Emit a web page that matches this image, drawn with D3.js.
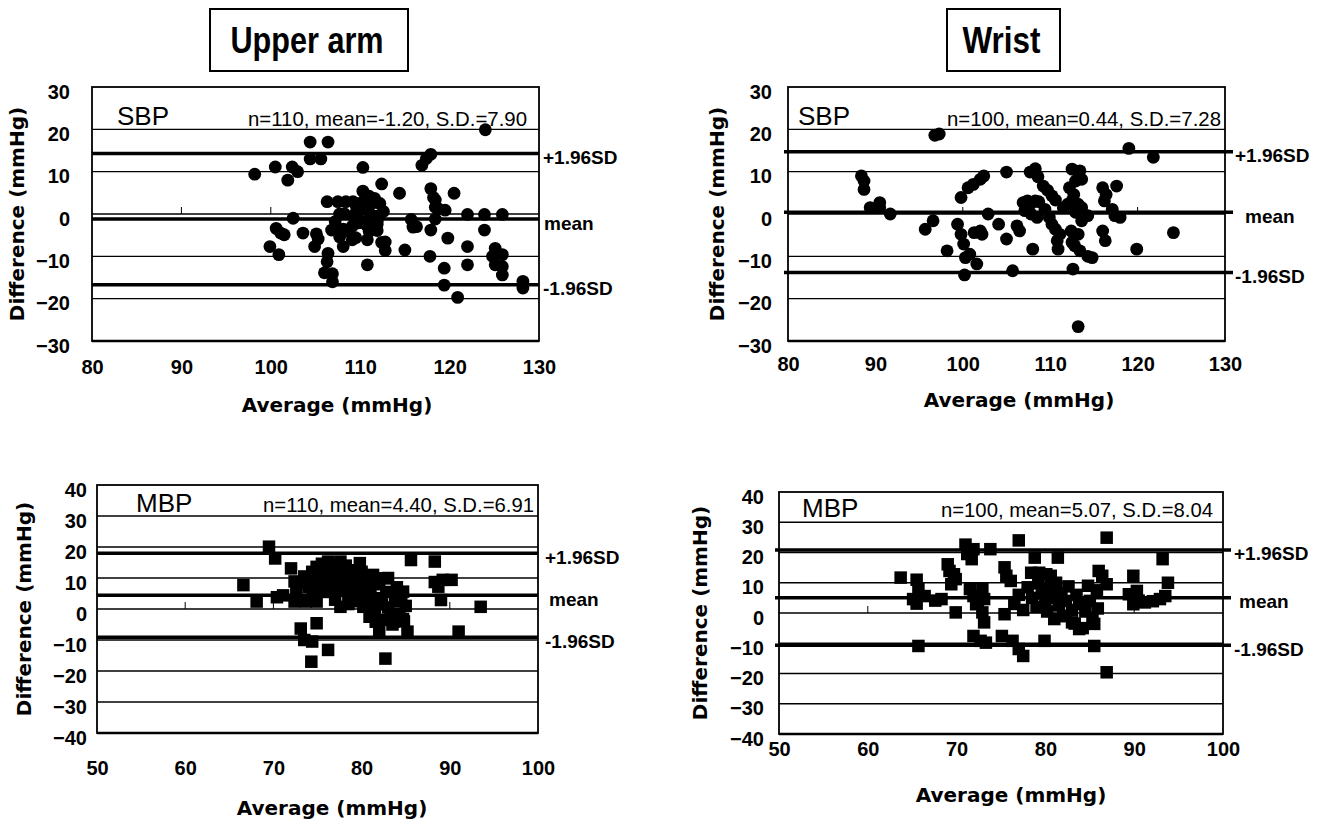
<!DOCTYPE html>
<html lang="en">
<head>
<meta charset="UTF-8">
<title>Bland-Altman: upper arm vs wrist</title>
<script src="https://d3js.org/d3.v7.min.js"></script>
<style>
  body { margin: 0; background: #fff; }
  svg { display: block; background: #fff; }
  text { fill: #000; }
  .tick text { font-family: 'Liberation Sans', Arial, sans-serif; font-weight: bold; font-size: 20px; }
  .axis-title { font-family: 'DejaVu Sans', sans-serif; font-weight: bold; font-size: 20px; }
  .limit-label { font-family: 'Liberation Sans', Arial, sans-serif; font-weight: bold; font-size: 19px; }
  .panel-name { font-family: 'Liberation Sans', Arial, sans-serif; font-size: 26px; }
  .stats { font-family: 'Liberation Sans', Arial, sans-serif; font-size: 21px; }
  .site-title { font-family: 'Liberation Sans', Arial, sans-serif; font-weight: bold; font-size: 37px; }
</style>
</head>
<body>
<svg width="1332" height="819"></svg>
<script>
// tick values
const sbpXTicks = [80, 90, 100, 110, 120, 130];
const sbpYTicks = [-30, -20, -10, 0, 10, 20, 30];
const mbpXTicks = [50, 60, 70, 80, 90, 100];
const mbpYTicks = [-40, -30, -20, -10, 0, 10, 20, 30, 40];

// n, mean, S.D. as printed on each plot
const armSbpStats = [110, -1.20, 7.90];
const wristSbpStats = [100, 0.44, 7.28];
const armMbpStats = [110, 4.40, 6.91];
const wristMbpStats = [100, 5.07, 8.04];

// upper arm SBP
const armSbpAvg = [124.0, 104.4, 106.4, 104.4, 105.6, 98.2, 100.5, 102.4, 103.0, 101.9,
  110.3, 116.9, 117.4, 117.9, 112.4, 114.4, 117.9, 120.5, 118.4, 118.7,
  119.5, 122.0, 123.9, 125.9, 115.7, 116.3, 117.9, 119.8, 123.9, 122.0,
  125.1, 124.8, 125.1, 125.9, 125.9, 125.9, 117.8, 119.4, 119.4, 120.9,
  128.2, 128.2, 122.0, 102.5, 100.6, 101.1, 101.5, 99.9, 100.9, 103.6,
  105.1, 105.3, 104.9, 106.4, 106.3, 106.0, 106.9, 106.9, 106.3, 107.5,
  108.4, 109.2, 110.3, 107.7, 108.2, 109.2, 106.8, 108.1, 107.7, 108.1,
  109.1, 109.1, 109.8, 110.1, 110.3, 111.0, 110.6, 111.0, 111.6, 111.6,
  111.9, 110.8, 111.0, 111.6, 112.2, 112.6, 110.0, 108.7, 109.5, 111.3,
  111.9, 112.4, 110.8, 112.8, 112.8, 115.0, 111.9, 112.1, 115.9, 118.4,
  118.4, 118.2, 109.6, 110.7, 107.2];
const armSbpDiff = [19.9, 17.0, 17.0, 13.0, 13.0, 9.4, 11.1, 11.1, 10.0, 8.0,
  11.0, 11.5, 13.1, 14.1, 7.1, 4.9, 6.0, 4.9, 3.3, 1.3,
  0.9, -0.1, -0.1, -0.1, -1.3, -3.0, -3.8, -5.7, -3.8, -7.7,
  -8.1, -10.0, -12.0, -9.6, -12.4, -14.4, -10.0, -12.8, -16.8, -19.7,
  -15.9, -17.5, -12.0, -1.0, -3.4, -4.5, -4.9, -7.7, -9.6, -4.5,
  -4.7, -5.9, -7.7, -9.3, -11.3, -13.9, -14.1, -16.0, 2.9, 2.9,
  2.9, 2.9, 2.9, 0.0, 0.1, -0.4, -3.8, -3.6, -5.4, -7.7,
  -6.1, -2.9, -2.1, 1.1, 5.4, 4.2, 2.7, 0.3, 2.7, -0.5,
  -1.7, -6.1, -4.1, 3.7, 2.5, 0.6, -1.6, -4.0, -5.6, -3.1,
  -3.9, -6.7, -12.0, -6.6, -8.6, -8.5, -2.4, -0.4, -3.1, -1.2,
  1.6, 3.9, 1.5, -2.6, -1.8];

// wrist SBP
const wristSbpAvg = [96.8, 97.3, 119.0, 121.8, 88.4, 88.7, 88.7, 89.4, 90.5, 90.5,
  91.7, 95.7, 96.6, 99.8, 99.4, 99.8, 100.1, 98.2, 100.8, 100.3,
  101.6, 100.2, 101.3, 102.0, 102.2, 100.6, 101.2, 102.0, 102.4, 102.9,
  104.1, 105.0, 105.0, 106.2, 106.5, 105.7, 108.0, 107.7, 108.3, 108.6,
  106.9, 107.4, 107.8, 108.3, 108.7, 107.1, 107.8, 108.5, 109.2, 109.7,
  110.2, 110.6, 109.4, 109.9, 110.2, 110.6, 111.1, 110.8, 110.9, 111.5,
  112.0, 112.5, 113.4, 112.9, 113.6, 112.2, 112.7, 112.5, 113.2, 113.6,
  112.9, 112.4, 113.2, 112.5, 112.8, 113.4, 114.3, 114.8, 112.6, 113.6,
  114.3, 116.0, 116.4, 117.6, 116.2, 116.0, 116.3, 117.1, 117.4, 118.0,
  119.9, 124.1, 113.2];
const wristSbpDiff = [18.6, 18.9, 15.5, 13.4, 9.0, 7.8, 5.8, 1.5, 2.7, 1.5,
  0.0, -3.6, -1.6, 3.9, -2.4, -4.8, -7.1, -8.7, -9.5, -10.3,
  -11.8, -14.4, -4.4, -4.0, -4.8, 6.2, 7.0, 8.2, 9.0, 0.0,
  -2.4, 9.9, -5.9, -2.8, -4.0, -13.4, -8.3, 9.9, 10.7, 8.8,
  2.7, 3.1, 2.5, 3.1, 2.9, 0.8, 0.0, -0.8, 6.6, 5.6,
  4.3, 3.3, 1.1, -0.8, -2.4, -3.6, -4.8, -6.3, -8.3, 1.5,
  2.3, 10.6, 10.2, 7.8, 8.2, 6.2, 4.6, 3.1, 2.3, 1.5,
  0.4, -4.0, -4.8, -6.7, -7.5, -8.7, -10.0, -10.3, -13.0, -1.6,
  -0.4, 6.2, 4.6, 6.6, 3.1, -4.0, -6.3, 1.1, -0.4, -0.8,
  -8.3, -4.4, -26.6];

// upper arm MBP
const armMbpAvg = [69.5, 70.2, 66.6, 68.1, 70.4, 71.1, 72.0, 72.4, 72.6, 72.4,
  73.7, 74.4, 74.9, 75.5, 76.2, 76.9, 77.6, 77.4, 73.5, 74.0,
  74.5, 75.0, 75.5, 75.8, 76.0, 76.5, 77.0, 77.0, 77.5, 78.0,
  78.2, 78.5, 79.0, 79.0, 79.5, 80.0, 80.0, 80.5, 80.8, 81.0,
  81.3, 81.5, 82.0, 82.0, 82.5, 82.8, 83.0, 83.0, 83.5, 83.8,
  84.0, 84.3, 84.5, 84.8, 85.0, 82.7, 84.1, 84.7, 80.9, 81.6,
  82.0, 83.6, 84.7, 85.2, 80.2, 73.1, 73.5, 74.4, 74.9, 74.3,
  76.2, 82.7, 73.7, 74.9, 75.3, 77.6, 78.5, 85.6, 88.3, 88.3,
  89.2, 90.2, 88.7, 89.0, 91.0, 93.5, 76.0, 77.2, 78.8, 79.8,
  76.8, 78.3, 80.3, 81.8, 79.3, 81.2, 82.3, 83.3, 77.8, 75.2,
  80.7];
const armMbpDiff = [20.1, 16.3, 7.7, 2.4, 3.8, 4.4, 13.1, 8.9, 5.1, 2.4,
  8.3, 12.0, 13.6, 14.6, 15.3, 14.6, 15.3, 13.6, 10.5, 7.0,
  4.0, 11.0, 8.0, 5.5, 12.5, 9.5, 6.5, 3.0, 11.5, 8.5,
  14.0, 5.5, 10.0, 2.5, 7.5, 12.0, 4.5, 9.0, 1.5, 6.0,
  11.0, -1.0, 3.5, 8.0, -3.5, 5.5, 10.0, 0.5, -5.0, 2.5,
  7.0, -1.5, 4.5, -4.0, 1.0, 9.9, 5.1, 5.6, -2.5, -4.1,
  -7.3, -4.1, -3.2, -7.3, 0.7, -6.3, -10.0, -10.5, -4.6, -17.0,
  -13.2, -16.0, 2.4, 2.4, 8.3, 0.7, 1.6, 15.8, 15.3, 8.7,
  9.4, 9.4, 7.2, 2.9, -7.3, 0.7, 10.5, 13.0, 12.5, 14.8,
  8.0, 6.8, 10.8, 9.8, 4.0, 3.0, 1.5, -2.0, 9.5, 6.5,
  7.5];

// wrist MBP
const wristMbpAvg = [63.7, 65.5, 65.7, 65.1, 65.5, 66.4, 65.7, 67.6, 68.3, 69.0,
  69.2, 69.7, 69.4, 69.9, 69.9, 71.0, 71.2, 71.7, 71.9, 71.5,
  71.9, 72.4, 73.1, 72.9, 72.2, 71.9, 72.7, 73.3, 73.1, 72.9,
  73.8, 75.4, 75.6, 76.1, 75.4, 75.1, 76.3, 77.0, 77.5, 77.0,
  78.8, 78.4, 79.3, 80.1, 80.6, 79.9, 81.4, 85.5, 85.5, 86.0,
  86.4, 86.9, 86.9, 86.9, 89.9, 89.4, 90.3, 89.9, 90.5, 91.2,
  92.1, 92.9, 93.5, 93.2, 93.8, 78.0, 78.5, 79.0, 79.2, 79.6,
  80.0, 80.2, 80.5, 80.8, 81.0, 81.2, 81.5, 81.8, 82.0, 82.3,
  82.6, 83.0, 83.3, 83.5, 83.8, 84.2, 84.5, 84.8, 85.0, 85.3,
  85.8, 85.9, 77.0, 76.5, 77.5, 82.3, 83.0, 83.8];
const wristMbpDiff = [11.7, 11.0, 7.9, 4.6, 3.1, 5.6, -10.9, 4.1, 4.6, 16.1,
  13.9, 12.8, 9.5, 11.2, 0.2, 22.6, 19.5, 17.8, 21.1, 7.9,
  5.6, 4.1, 4.6, 7.9, 2.9, -7.6, -9.2, -9.8, -3.1, 0.2,
  21.1, 15.1, 12.3, 10.6, -0.4, -7.6, -9.2, -11.9, -14.2, 24.0,
  18.3, 13.3, 13.3, 12.8, 12.3, -9.2, 18.3, -3.6, -10.9, 13.9,
  12.3, 9.5, 24.9, -19.6, 12.3, 6.2, 7.3, 2.9, 4.1, 3.5,
  3.9, 4.6, 5.6, 17.8, 10.0, 8.5, 5.0, 2.0, 9.8, 6.5,
  3.5, 0.5, 8.0, 5.0, -2.0, 10.0, 2.5, 6.5, -1.0, 4.0,
  8.8, 1.0, -3.5, 6.0, 3.0, -5.0, 0.5, 9.0, 4.0, -1.5,
  7.5, 1.5, 6.0, 3.0, 1.0, -1.0, -3.1, -5.3];

const svg = d3.select('svg');

// site headers ("Upper arm" / "Wrist")
const headers = [
  { text: 'Upper arm', x0: 210, x1: 408, width: 153 },
  { text: 'Wrist', x0: 947, x1: 1060, width: 78 }
];
headers.forEach(h => {
  svg.append('rect')
    .attr('x', h.x0).attr('y', 9)
    .attr('width', h.x1 - h.x0).attr('height', 62)
    .attr('fill', 'none').attr('stroke', '#000').attr('stroke-width', 2);
  svg.append('text').attr('class', 'site-title')
    .attr('x', (h.x0 + h.x1) / 2 - 2).attr('y', 53)
    .attr('text-anchor', 'middle')
    .attr('textLength', h.width).attr('lengthAdjust', 'spacingAndGlyphs')
    .text(h.text);
});

const panels = [
  { name: 'SBP', avg: armSbpAvg, diff: armSbpDiff, stats: armSbpStats,
    xTicks: sbpXTicks, yTicks: sbpYTicks, marker: 'circle',
    box: [92, 87, 539, 341], overhang: [0, 0],
    nameX: 117, nameY: 125, statsX: 527, statsY: 126, statsW: 279,
    yPad: 22, xLabelOff: 26, titleX: 337, titleY: 405, yTitleX: 17,
    limX: [543, 544, 543] },
  { name: 'SBP', avg: wristSbpAvg, diff: wristSbpDiff, stats: wristSbpStats,
    xTicks: sbpXTicks, yTicks: sbpYTicks, marker: 'circle',
    box: [788, 87, 1225, 341], overhang: [4, 8],
    nameX: 798, nameY: 125, statsX: 1221, statsY: 126, statsW: 274,
    yPad: 16, xLabelOff: 23, titleX: 1019, titleY: 400, yTitleX: 717,
    limX: [1235, 1245, 1235] },
  { name: 'MBP', avg: armMbpAvg, diff: armMbpDiff, stats: armMbpStats,
    xTicks: mbpXTicks, yTicks: mbpYTicks, marker: 'square',
    box: [97, 485, 538, 733], overhang: [0, 0],
    nameX: 136, nameY: 512, statsX: 534, statsY: 512, statsW: 271,
    yPad: 10, xLabelOff: 35, titleX: 332, titleY: 808, yTitleX: 24,
    limX: [545, 549, 545] },
  { name: 'MBP', avg: wristMbpAvg, diff: wristMbpDiff, stats: wristMbpStats,
    xTicks: mbpXTicks, yTicks: mbpYTicks, marker: 'square',
    box: [779, 492, 1223, 734], overhang: [4, 8],
    nameX: 802, nameY: 517, statsX: 1213, statsY: 517, statsW: 272,
    yPad: 15, xLabelOff: 15, titleX: 1011, titleY: 795, yTitleX: 700,
    limX: [1234, 1239, 1234] }
];

panels.forEach(p => {
  const [left, top, right, bottom] = p.box;
  const x = d3.scaleLinear().domain(d3.extent(p.xTicks)).range([left, right]);
  const y = d3.scaleLinear().domain(d3.extent(p.yTicks)).range([bottom, top]);
  const g = svg.append('g');

  // inner gridlines
  g.selectAll('line.grid')
    .data(p.yTicks.slice(1, -1))
    .join('line').attr('class', 'grid')
    .attr('x1', left).attr('x2', right)
    .attr('y1', d => y(d)).attr('y2', d => y(d))
    .attr('stroke', '#000').attr('stroke-width', 1.4);

  // small ticks on the zero line
  g.selectAll('line.zt')
    .data(p.xTicks.slice(1, -1))
    .join('line').attr('class', 'zt')
    .attr('x1', d => x(d)).attr('x2', d => x(d))
    .attr('y1', y(0)).attr('y2', y(0) - 7)
    .attr('stroke', '#000').attr('stroke-width', 1);

  // mean and +/-1.96 SD lines
  const [n, mean, sd] = p.stats;
  const limits = [mean + 1.96 * sd, mean, mean - 1.96 * sd];
  g.selectAll('line.lim')
    .data(limits)
    .join('line').attr('class', 'lim')
    .attr('x1', left - p.overhang[0]).attr('x2', right + p.overhang[1])
    .attr('y1', d => y(d)).attr('y2', d => y(d))
    .attr('stroke', '#000').attr('stroke-width', 3.5);

  const limText = ['+1.96SD', 'mean', '-1.96SD'];
  g.selectAll('text.lim')
    .data(limits)
    .join('text').attr('class', 'limit-label')
    .attr('x', (d, i) => p.limX[i])
    .attr('y', d => y(d) + 4)
    .attr('dominant-baseline', 'central')
    .text((d, i) => limText[i]);

  // frame
  g.append('rect')
    .attr('x', left).attr('y', top)
    .attr('width', right - left).attr('height', bottom - top)
    .attr('fill', 'none').attr('stroke', '#000').attr('stroke-width', 1.8);
  g.append('line')
    .attr('x1', left).attr('x2', right).attr('y1', bottom).attr('y2', bottom)
    .attr('stroke', '#000').attr('stroke-width', 2.6);

  // points
  const pts = p.avg.map((a, i) => ({ a, d: p.diff[i] }));
  if (p.marker === 'circle') {
    g.selectAll('circle.pt').data(pts).join('circle').attr('class', 'pt')
      .attr('cx', d => x(d.a)).attr('cy', d => y(d.d)).attr('r', 6.4)
      .attr('fill', '#000');
  } else {
    const s = 12.5;
    g.selectAll('rect.pt').data(pts).join('rect').attr('class', 'pt')
      .attr('x', d => x(d.a) - s / 2).attr('y', d => y(d.d) - s / 2)
      .attr('width', s).attr('height', s).attr('fill', '#000');
  }

  // axes
  const xAxis = g.append('g')
    .attr('transform', `translate(0,${bottom})`)
    .call(d3.axisBottom(x).tickValues(p.xTicks).tickSize(0).tickFormat(d3.format('d')));
  xAxis.select('.domain').remove();
  xAxis.selectAll('text').attr('y', p.xLabelOff).attr('dy', '0.35em');

  const yAxis = g.append('g')
    .attr('transform', `translate(${left},0)`)
    .call(d3.axisLeft(y).tickValues(p.yTicks).tickSize(0).tickPadding(p.yPad).tickFormat(d3.format('d')));
  yAxis.select('.domain').remove();
  yAxis.selectAll('text').attr('dy', '0.55em');

  // labels inside the header band
  g.append('text').attr('class', 'panel-name')
    .attr('x', p.nameX).attr('y', p.nameY).text(p.name);
  g.append('text').attr('class', 'stats')
    .attr('x', p.statsX).attr('y', p.statsY).attr('text-anchor', 'end')
    .attr('textLength', p.statsW).attr('lengthAdjust', 'spacingAndGlyphs')
    .text(`n=${n}, mean=${mean.toFixed(2)}, S.D.=${sd.toFixed(2)}`);

  // axis titles
  g.append('text').attr('class', 'axis-title')
    .attr('x', p.titleX).attr('y', p.titleY)
    .attr('text-anchor', 'middle').attr('dominant-baseline', 'central')
    .text('Average (mmHg)');
  g.append('text').attr('class', 'axis-title')
    .attr('transform', `translate(${p.yTitleX},${(top + bottom) / 2}) rotate(-90)`)
    .attr('text-anchor', 'middle').attr('dominant-baseline', 'central')
    .text('Difference (mmHg)');
});
</script>
</body>
</html>
